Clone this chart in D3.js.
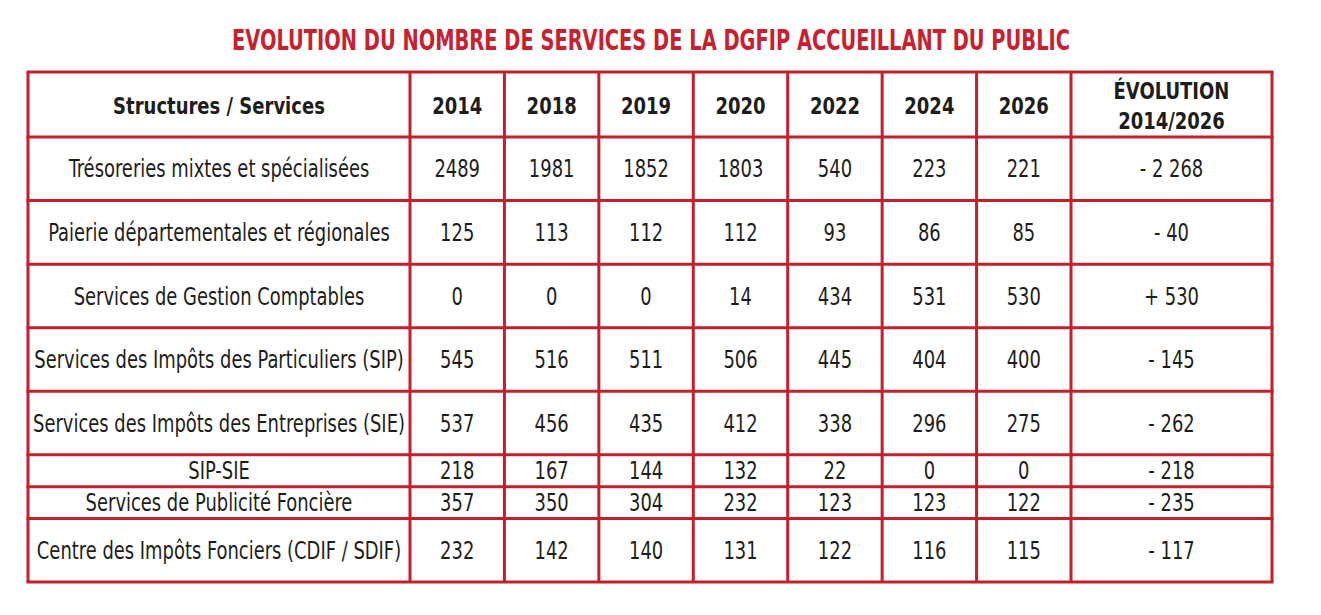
<!DOCTYPE html>
<html>
<head>
<meta charset="utf-8">
<script src="https://cdn.jsdelivr.net/npm/d3@7"></script>
<style>
  html, body { margin: 0; padding: 0; background: #ffffff; }
  svg { display: block; }
</style>
</head>
<body>
<svg id="chart" width="1321" height="615"></svg>
<script>
// ---------- DATA ----------
const title = "EVOLUTION DU NOMBRE DE SERVICES DE LA DGFIP ACCUEILLANT DU PUBLIC";
const firstHeader = "Structures / Services";
const years = ["2014", "2018", "2019", "2020", "2022", "2024", "2026"];
const evolutionHeader = ["ÉVOLUTION", "2014/2026"];
const services = [
  "Trésoreries mixtes et spécialisées",
  "Paierie départementales et régionales",
  "Services de Gestion Comptables",
  "Services des Impôts des Particuliers (SIP)",
  "Services des Impôts des Entreprises (SIE)",
  "SIP-SIE",
  "Services de Publicité Foncière",
  "Centre des Impôts Fonciers (CDIF / SDIF)"
];
const v2014 = [2489, 125, 0, 545, 537, 218, 357, 232];
const v2018 = [1981, 113, 0, 516, 456, 167, 350, 142];
const v2019 = [1852, 112, 0, 511, 435, 144, 304, 140];
const v2020 = [1803, 112, 14, 506, 412, 132, 232, 131];
const v2022 = [540, 93, 434, 445, 338, 22, 123, 122];
const v2024 = [223, 86, 531, 404, 296, 0, 123, 116];
const v2026 = [221, 85, 530, 400, 275, 0, 122, 115];
const evolution = ["- 2 268", "- 40", "+ 530", "- 145", "- 262", "- 218", "- 235", "- 117"];

// ---------- LAYOUT ----------
const RED = "#c4202c";
const INK = "#1d1d1b";
const FONT = "'DejaVu Sans Condensed', 'DejaVu Sans', sans-serif";
const SX_REG = 0.83, SX_BOLD = 0.87;   // horizontal condensing to mimic a condensed face
const tableLeft = 28, tableRight = 1272, tableTop = 72, headerBottom = 137, tableBottom = 582;
const labelColRight = 410, evoColLeft = 1071;
const rowUnits = [2, 2, 2, 2, 2, 1, 1, 2];   // relative row heights

const series = [v2014, v2018, v2019, v2020, v2022, v2024, v2026];

const svg = d3.select("#chart");

const x = d3.scaleBand().domain(years).range([labelColRight, evoColLeft]).padding(0);

const cum = [0];
rowUnits.forEach(u => cum.push(cum[cum.length - 1] + u));
const y = d3.scaleLinear().domain([0, cum[cum.length - 1]]).range([headerBottom, tableBottom]);
const rowTop = i => y(cum[i]);
const rowBot = i => y(cum[i + 1]);
const rowMid = i => (rowTop(i) + rowBot(i)) / 2;

function place(sel, fx, fy, sx) {
  sel.attr("x", 0).attr("y", 0)
     .attr("dy", "0.36em")
     .attr("text-anchor", "middle")
     .attr("transform", (d, i) => `translate(${fx(d, i)},${fy(d, i)}) scale(${sx},1)`);
}

// ---------- TITLE ----------
svg.append("text")
  .attr("x", 651).attr("y", 49.5)
  .attr("text-anchor", "middle")
  .attr("font-family", FONT)
  .attr("font-weight", "bold")
  .attr("font-size", 28)
  .attr("fill", "#c8202e")
  .attr("textLength", 838)
  .attr("lengthAdjust", "spacingAndGlyphs")
  .text(title);

// ---------- TEXT ----------
const g = svg.append("g").attr("font-family", FONT).attr("fill", INK);

const headerMid = 106;
const labelMid = (tableLeft + labelColRight) / 2;
const evoMid = (evoColLeft + tableRight) / 2;

place(g.append("text").attr("font-weight", "bold").attr("font-size", 23).text(firstHeader),
  () => labelMid, () => headerMid, SX_BOLD);

place(g.selectAll("text.year").data(years).join("text")
    .attr("class", "year").attr("font-weight", "bold").attr("font-size", 23).text(d => d),
  d => x(d) + x.bandwidth() / 2, () => headerMid, SX_BOLD);

place(g.selectAll("text.evoh").data(evolutionHeader).join("text")
    .attr("class", "evoh").attr("font-weight", "bold").attr("font-size", 23).text(d => d),
  () => evoMid, (d, i) => 91 + i * 30, SX_BOLD);

place(g.selectAll("text.svc").data(services).join("text")
    .attr("class", "svc").attr("font-size", 24).text(d => d),
  () => labelMid, (d, i) => rowMid(i), SX_REG);

series.forEach((vals, c) => {
  place(g.selectAll(null).data(vals).join("text")
      .attr("font-size", 24).text(d => d),
    () => x(years[c]) + x.bandwidth() / 2, (d, i) => rowMid(i), SX_REG);
});

place(g.selectAll("text.evo").data(evolution).join("text")
    .attr("class", "evo").attr("font-size", 24).text(d => d),
  () => evoMid, (d, i) => rowMid(i), SX_REG);

// ---------- GRID LINES ----------
const lines = svg.append("g").attr("stroke", RED).attr("stroke-width", 3).attr("fill", "none");
const vx = [tableLeft, labelColRight, ...years.slice(1).map(d => x(d)), evoColLeft, tableRight];
lines.selectAll("line.v").data(vx).join("line")
  .attr("class", "v")
  .attr("x1", d => d).attr("x2", d => d)
  .attr("y1", tableTop).attr("y2", tableBottom);
const hy = [tableTop, headerBottom, ...d3.range(1, rowUnits.length).map(rowTop), tableBottom];
lines.selectAll("line.h").data(hy).join("line")
  .attr("class", "h")
  .attr("x1", tableLeft - 1.5).attr("x2", tableRight + 1.5)
  .attr("y1", d => d).attr("y2", d => d);
</script>
</body>
</html>
